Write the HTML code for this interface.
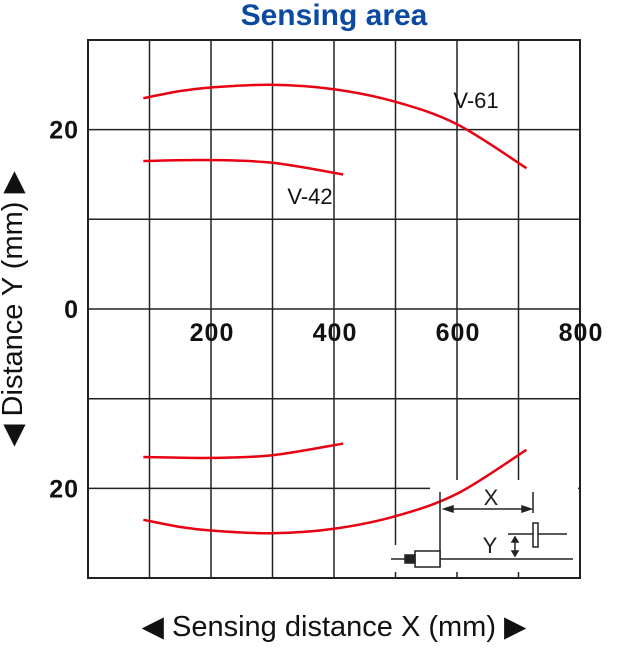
<!DOCTYPE html>
<html><head><meta charset="utf-8"><style>
body{margin:0;background:#fff;width:640px;height:650px;overflow:hidden}
svg{display:block;font-family:"Liberation Sans",sans-serif}
</style></head><body>
<svg width="640" height="650">
<text x="334" y="25" text-anchor="middle" font-size="30" font-weight="bold" fill="#0a4aa0">Sensing area</text>
<g id="grid"></g>
<rect x="88" y="40" width="492" height="538" fill="none" stroke="#222" stroke-width="2"/>
<g id="inset-bg"></g>
<g id="curves"></g>
<g id="inset" stroke="#222" stroke-width="1.5" fill="none">
<line x1="440" y1="492" x2="440" y2="567"/>
<rect x="415" y="551" width="25" height="16" fill="#fff"/>
<rect x="405" y="555" width="10" height="8" fill="#222"/>
<line x1="391" y1="559" x2="405" y2="559"/>
<line x1="440" y1="559" x2="573" y2="559"/>
<line x1="444" y1="509" x2="530" y2="509"/>
<path d="M444 509l9-3v6z M531 509l-9-3v6z" fill="#222"/>
<line x1="533" y1="492" x2="533" y2="513"/>
<line x1="508" y1="534" x2="567" y2="534"/>
<rect x="533" y="523" width="5" height="24" fill="#fff"/>
<line x1="515" y1="538" x2="515" y2="555"/>
<path d="M515 537l-3 5h6z M515 556l-3-5h6z" fill="#222"/>
<text x="491" y="505" font-size="22" fill="#222" stroke="none" text-anchor="middle">X</text>
<text x="490" y="553" font-size="22" fill="#222" stroke="none" text-anchor="middle">Y</text>
</g>
<g id="labels" font-size="25" font-weight="bold" fill="#111" letter-spacing="1"></g>
<text x="310" y="204" font-size="22" fill="#111" text-anchor="middle">V-42</text>
<text x="476" y="108" font-size="22" fill="#111" text-anchor="middle">V-61</text>
<text x="334" y="636" font-size="29" fill="#111" text-anchor="middle">◀ Sensing distance X (mm) ▶</text>
<text transform="translate(22,309) rotate(-90)" font-size="29" fill="#111" text-anchor="middle">◀ Distance Y (mm) ▶</text>
</svg>
<script>
const xTicks=[200,400,600,800];
const yTicks=[20,0,-20];
const yTickLabels=["20","0","20"];
const v61X=[90,150,200,300,400,500,600,713];
const v61Y=[23.5,24.3,24.7,25.0,24.5,23.1,20.6,15.7];
const v42X=[90,200,300,415];
const v42Y=[16.5,16.6,16.3,15.0];
const NS='http://www.w3.org/2000/svg';
const sx=v=>88+v*0.615;
const sy=v=>309-v*8.97;
const grid=document.getElementById('grid');
function ln(p,x1,y1,x2,y2,c,w){const l=document.createElementNS(NS,'line');l.setAttribute('x1',x1);l.setAttribute('y1',y1);l.setAttribute('x2',x2);l.setAttribute('y2',y2);l.setAttribute('stroke',c);l.setAttribute('stroke-width',w);p.appendChild(l);return l;}
for(let v=100;v<800;v+=100){const g=ln(grid,sx(v),40,sx(v),578,'#222',1.5);

}
for(let v=-20;v<=20;v+=10){const g=ln(grid,88,sy(v),580,sy(v),'#222',1.5);

}
const ib=document.getElementById('inset-bg');
const bg=document.createElementNS(NS,'path');
bg.setAttribute('d','M430 480H578V572H381V545H430Z');bg.setAttribute('fill','#fff');


ib.appendChild(bg);
const cv=document.getElementById('curves');
function curve(xs,ys,sign,name){
const pts=xs.map((x,i)=>[sx(x),sy(sign*ys[i])]);
let d='M'+pts[0].join(' ');
for(let i=0;i<pts.length-1;i++){const p0=pts[i-1]||pts[i],p1=pts[i],p2=pts[i+1],p3=pts[i+2]||p2;
d+=` C${p1[0]+(p2[0]-p0[0])/6} ${p1[1]+(p2[1]-p0[1])/6} ${p2[0]-(p3[0]-p1[0])/6} ${p2[1]-(p3[1]-p1[1])/6} ${p2[0]} ${p2[1]}`;}
const p=document.createElementNS(NS,'path');p.setAttribute('d',d);p.setAttribute('fill','none');p.setAttribute('stroke','#e60012');p.setAttribute('stroke-width','2.5');


cv.appendChild(p);}
curve(v61X,v61Y,1,'v61-upper-curve');curve(v61X,v61Y,-1,'v61-lower-curve');
curve(v42X,v42Y,1,'v42-upper-curve');curve(v42X,v42Y,-1,'v42-lower-curve');
const lb=document.getElementById('labels');
function tx(x,y,s,anchor){const t=document.createElementNS(NS,'text');t.setAttribute('x',x);t.setAttribute('y',y);t.setAttribute('text-anchor',anchor);t.textContent=s;lb.appendChild(t);return t;}
xTicks.forEach(v=>{const t=tx(sx(v)+1,341,String(v),'middle');

});
yTicks.forEach((v,i)=>{const t=tx(79,sy(v)+9,yTickLabels[i],'end');

});
</script>
</body></html>
